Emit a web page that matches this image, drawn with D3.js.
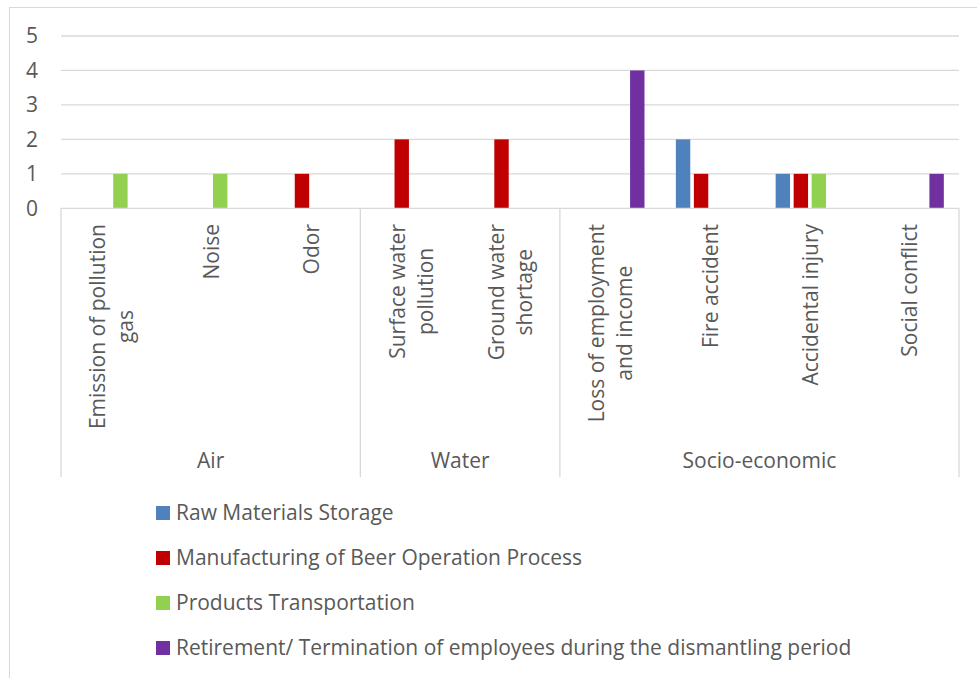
<!DOCTYPE html>
<html><head><meta charset="utf-8">
<script src="https://cdn.jsdelivr.net/npm/d3@7"></script>
<style>
body{margin:0;background:#fff}
svg text{font-family:"Open Sans",sans-serif;fill:#595959;font-size:21px}
</style>
</head><body>
<svg id="chart" width="977" height="678"></svg>
<script>
const categories = ["Emission of pollution gas","Noise","Odor","Surface water pollution","Ground water shortage","Loss of employment and income","Fire accident","Accidental injury","Social conflict"];
const categoryLines = [["Emission of pollution","gas"],["Noise"],["Odor"],["Surface water","pollution"],["Ground water","shortage"],["Loss of employment","and income"],["Fire accident"],["Accidental injury"],["Social conflict"]];
const groups = ["Air","Water","Socio-economic"];
const groupSizes = [3,2,4];
const seriesNames = ["Raw Materials Storage","Manufacturing of Beer Operation Process","Products Transportation","Retirement/ Termination of employees during the dismantling period"];
const rawMaterialsStorage = [0,0,0,0,0,0,2,1,0];
const manufacturingProcess = [0,0,1,2,2,0,1,1,0];
const productsTransportation = [1,1,0,0,0,0,0,1,0];
const retirementTermination = [0,0,0,0,0,4,0,0,1];
const seriesColors = ["#4F81BD","#C00000","#92D050","#7030A0"];
const yTicks = [0,1,2,3,4,5];

const seriesValues = [rawMaterialsStorage, manufacturingProcess, productsTransportation, retirementTermination];
const svg = d3.select("#chart");
const grid = "#d9d9d9";

// outer border
svg.append("rect").attr("x",9.5).attr("y",7.5).attr("width",1000).attr("height",700)
  .attr("fill","none").attr("stroke",grid).attr("stroke-width",1);

const x0 = d3.scaleBand().domain(categories).range([61,959]).padding(0);
const x1 = d3.scaleBand().domain(d3.range(4)).range([14.4,86.4]).paddingInner(0.2).paddingOuter(0.1);
const y = d3.scaleLinear().domain([0,5]).range([208.3,36]);

// gridlines
svg.append("g").selectAll("line").data(yTicks.filter(d=>d>0)).join("line")
  .attr("x1",61).attr("x2",959).attr("y1",d=>y(d)).attr("y2",d=>y(d))
  .attr("stroke",grid).attr("stroke-width",1.3);

// y axis labels
const yAxis = d3.axisLeft(y).tickValues(yTicks).tickSize(0).tickPadding(0).tickFormat(d3.format("d"));
const yg = svg.append("g").attr("transform","translate(38,0)").call(yAxis);
yg.select(".domain").remove();
yg.selectAll("text").style("font-family",'"Open Sans",sans-serif').style("font-size","21px").attr("fill","#595959");

// bars
const cat = svg.append("g").selectAll("g").data(categories).join("g")
  .attr("transform",d=>`translate(${x0(d)},0)`);
cat.selectAll("rect").data((d,i)=>seriesValues.map((s,k)=>({k,v:s[i]})).filter(o=>o.v>0)).join("rect")
  .attr("x",o=>x1(o.k)).attr("width",x1.bandwidth())
  .attr("y",o=>y(o.v)).attr("height",o=>y(0)-y(o.v))
  .attr("fill",o=>seriesColors[o.k]);

// axis line
svg.append("line").attr("x1",61).attr("x2",959).attr("y1",y(0)).attr("y2",y(0))
  .attr("stroke",grid).attr("stroke-width",1.3);

// group separators
let starts = [0]; groupSizes.forEach((s,i)=>starts.push(starts[i]+s));
const sepX = starts.map(i => i < categories.length ? x0(categories[i]) : x0.range()[1]);
svg.append("g").selectAll("line").data(sepX).join("line")
  .attr("x1",d=>d).attr("x2",d=>d).attr("y1",y(0)).attr("y2",477)
  .attr("stroke",grid).attr("stroke-width",1.3);

// category labels (rotated)
categories.forEach((c,i)=>{
  const cx = x0(c) + x0.bandwidth()/2;
  const g = svg.append("g").attr("transform",`translate(${cx},224) rotate(-90)`);
  const lines = categoryLines[i];
  const ts = lines.map(l=>g.append("text").text(l).attr("text-anchor","middle"));
  const L = d3.max(ts, t=>t.node().getComputedTextLength());
  const n = lines.length;
  ts.forEach((t,j)=>t.attr("x",-L/2).attr("y",8.3 + (j-(n-1)/2)*28));
});

// group labels
groups.forEach((gname,i)=>{
  const cx = (sepX[i]+sepX[i+1])/2;
  svg.append("text").attr("x",cx).attr("y",468).attr("text-anchor","middle").text(gname);
});

// legend
const leg = svg.append("g").selectAll("g").data(seriesNames).join("g")
  .attr("transform",(d,i)=>`translate(156,${506+i*45})`);
leg.append("rect").attr("width",14).attr("height",14).attr("fill",(d,i)=>seriesColors[i]);
leg.append("text").attr("x",20).attr("y",14).text(d=>d);
</script>
</body></html>
